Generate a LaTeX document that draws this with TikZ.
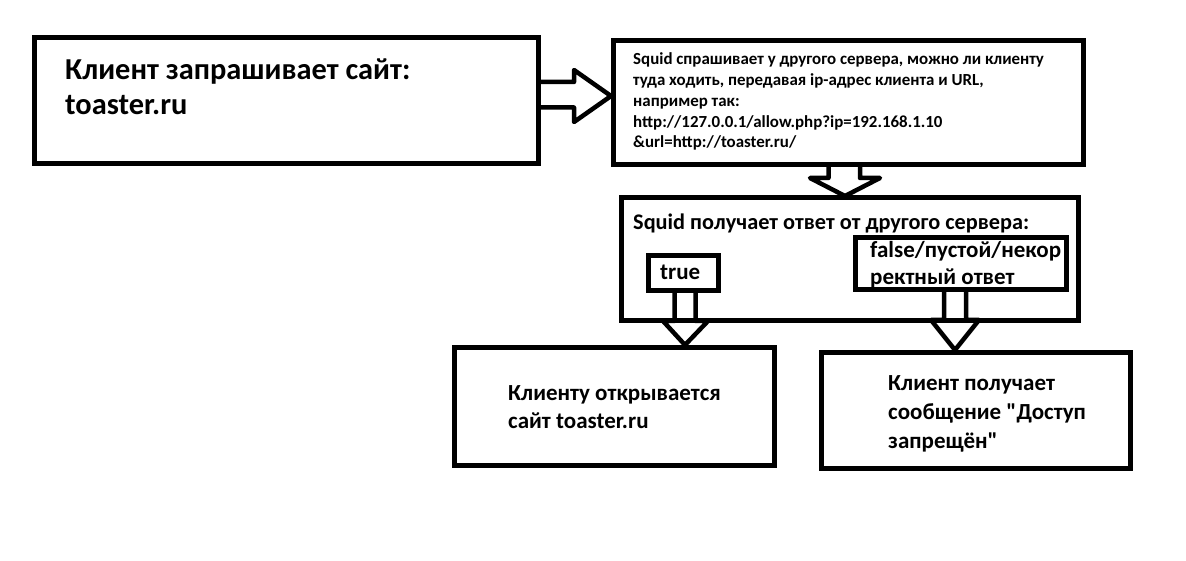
\documentclass[tikz,border=0pt]{standalone}
\usepackage{fontspec}
\setmainfont{Carlito}[Ligatures=TeXOff]
\usetikzlibrary{calc}
\begin{document}
\begin{tikzpicture}[x=1pt,y=-1pt,
  box/.style={draw, line width=5pt, inner sep=0pt, minimum width=#1},
  blk/.style={draw, line width=4.5pt, fill=white, line join=round},
  big/.style={anchor=base west, inner sep=0pt, font=\bfseries\fontsize{30.4}{36}\selectfont},
  small/.style={anchor=base west, inner sep=0pt, font=\bfseries\fontsize{16.9}{20}\selectfont},
  head/.style={anchor=base west, inner sep=0pt, font=\bfseries\fontsize{22.3}{26}\selectfont},
  mid/.style={anchor=base west, inner sep=0pt, font=\bfseries\fontsize{23}{28}\selectfont}]
\useasboundingbox[fill=white] (0,0) rectangle (1186,561);

% arrows
\coordinate (a1tip) at (611,96);
\draw[blk] (538.5,82) -- (574,82) -- (574,70) -- (a1tip) -- (574,122) -- (574,107.5) -- (538.5,107.5);
\coordinate (a2tip) at (845,196);
\draw[blk] (828.5,165) -- (828.5,178) -- (810,178) -- (a2tip) -- (880,178) -- (860,178) -- (860,165);
\coordinate (a3tip) at (685,345);
\draw[blk] (674.5,291) -- (674.5,321) -- (663,321) -- (a3tip) -- (708,321) -- (695.5,321) -- (695.5,291);
\coordinate (a4tip) at (955,350);
\draw[blk] (944,290) -- (944,320) -- (931,320) -- (a4tip) -- (979,320) -- (966,320) -- (966,290);

% boxes
\node[box=504pt, minimum height=126pt] (b1) at (286.5,100.5) {};
\node[box=470pt, minimum height=124pt] (b2) at (848,103) {};
\node[box=457pt, minimum height=123pt] (b3) at (849.5,259.5) {};
\node[box=70pt, minimum height=35pt] (btrue) at (683,273.5) {};
\node[box=211pt, minimum height=52pt] (bfalse) at (960.5,264) {};
\node[box=320pt, minimum height=118pt] (b4) at (614.5,406.5) {};
\node[box=309pt, minimum height=115.5pt] (b5) at (976,410.25) {};

% texts
\node[big] (t1a) at (65,79.5) {Клиент запрашивает сайт:};
\node[big] (t1b) at (65,115) {toaster.ru};

\node[small] (t2a) at (633,65) {Squid спрашивает у другого сервера, можно ли клиенту};
\node[small] (t2b) at (633,86) {туда ходить, передавая ip-адрес клиента и URL,};
\node[small] (t2c) at (633,106.7) {например так:};
\node[small] (t2d) at (633,127.3) {http://127.0.0.1/allow.php?ip=192.168.1.10};
\node[small] (t2e) at (633,148) {\&url=http://toaster.ru/};

\node[head] (t3) at (633,230) {Squid получает ответ от другого сервера:};
\node[mid] (tt) at (660,280) {true};
\node[mid] (tfa) at (870,258) {false/пустой/некор};
\node[mid] (tfb) at (870,285) {ректный ответ};

\node[mid] (t4a) at (508,400) {Клиенту открывается};
\node[mid] (t4b) at (508,428) {сайт toaster.ru};

\node[mid] (t5a) at (888,390) {Клиент получает};
\node[mid] (t5b) at (888,419) {сообщение "Доступ};
\node[mid] (t5c) at (888,448) {запрещён"};
\end{tikzpicture}
\end{document}
